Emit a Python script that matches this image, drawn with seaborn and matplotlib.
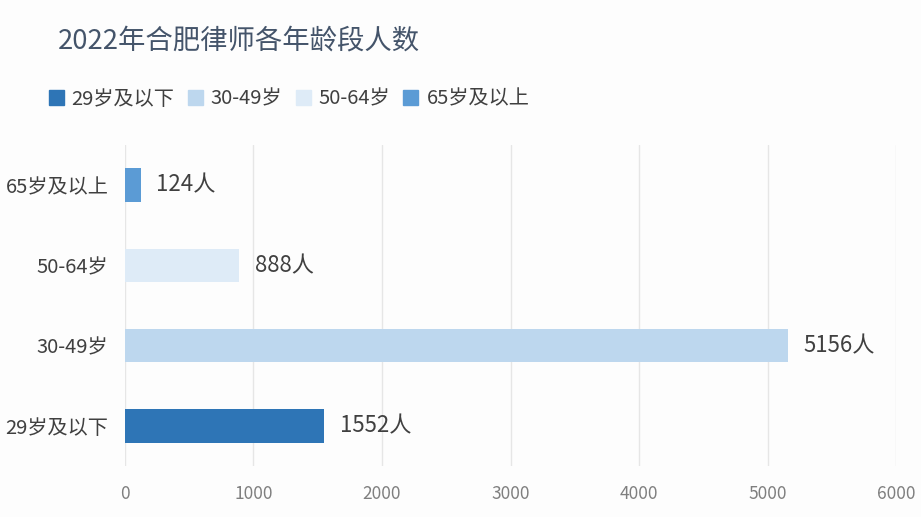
import pandas as pd
import matplotlib
matplotlib.use('Agg')
import matplotlib.pyplot as plt
import matplotlib.patches as mpatches
import seaborn as sns

# data
groups = ['29岁及以下', '30-49岁', '50-64岁', '65岁及以上']
counts = [1552, 5156, 888, 124]
colors = ['#2E75B6', '#BDD7EE', '#DEEBF7', '#5B9BD5']
title = '2022年合肥律师各年龄段人数'

sns.set_theme(style='white')
plt.rcParams['font.family'] = ['Noto Sans CJK SC', 'DejaVu Sans']

df = pd.DataFrame({'group': groups, 'count': counts})
order = groups[::-1]  # top to bottom

fig = plt.figure(figsize=(9.21, 5.17), dpi=100)
fig.patch.set_facecolor('#fdfdfd')
ax = fig.add_axes([0.1357, 0.0986, 0.8372, 0.6209])
ax.set_facecolor('#fdfdfd')

sns.barplot(data=df, y='group', x='count', hue='group', order=order,
            hue_order=groups, palette=colors, orient='h', width=0.42,
            saturation=1, linewidth=0, dodge=False, legend=False, ax=ax)

ax.set_xlim(0, 6000)
ax.set_xticks(range(0, 6001, 1000))
ax.grid(axis='x', color='#e6e6e6', linewidth=1)
ax.set_axisbelow(True)
for s in ax.spines.values():
    s.set_visible(False)
ax.set_xlabel('')
ax.set_ylabel('')
ax.tick_params(axis='x', colors='#7f7f7f', labelsize=12.5, length=0, pad=14)
ax.tick_params(axis='y', colors='#404040', labelsize=14.5, length=0, pad=12)

# value labels
for i, g in enumerate(order):
    v = counts[groups.index(g)]
    ax.text(v + 120, i, f'{v}人', va='center', ha='left', fontsize=16, color='#404040')

fig.text(0.063, 0.92, title, fontsize=19.7, color='#44546A', va='center', ha='left')

handles = [mpatches.Patch(color=c, label=g) for g, c in zip(groups, colors)]
fig.legend(handles=handles, loc='center left', bbox_to_anchor=(0.033, 0.808),
           ncol=4, frameon=False, fontsize=14.5, handlelength=0.75, handleheight=0.75,
           handletextpad=0.4, columnspacing=0.65, labelcolor='#404040')

fig.savefig('out.png', dpi=100, facecolor=fig.get_facecolor())
